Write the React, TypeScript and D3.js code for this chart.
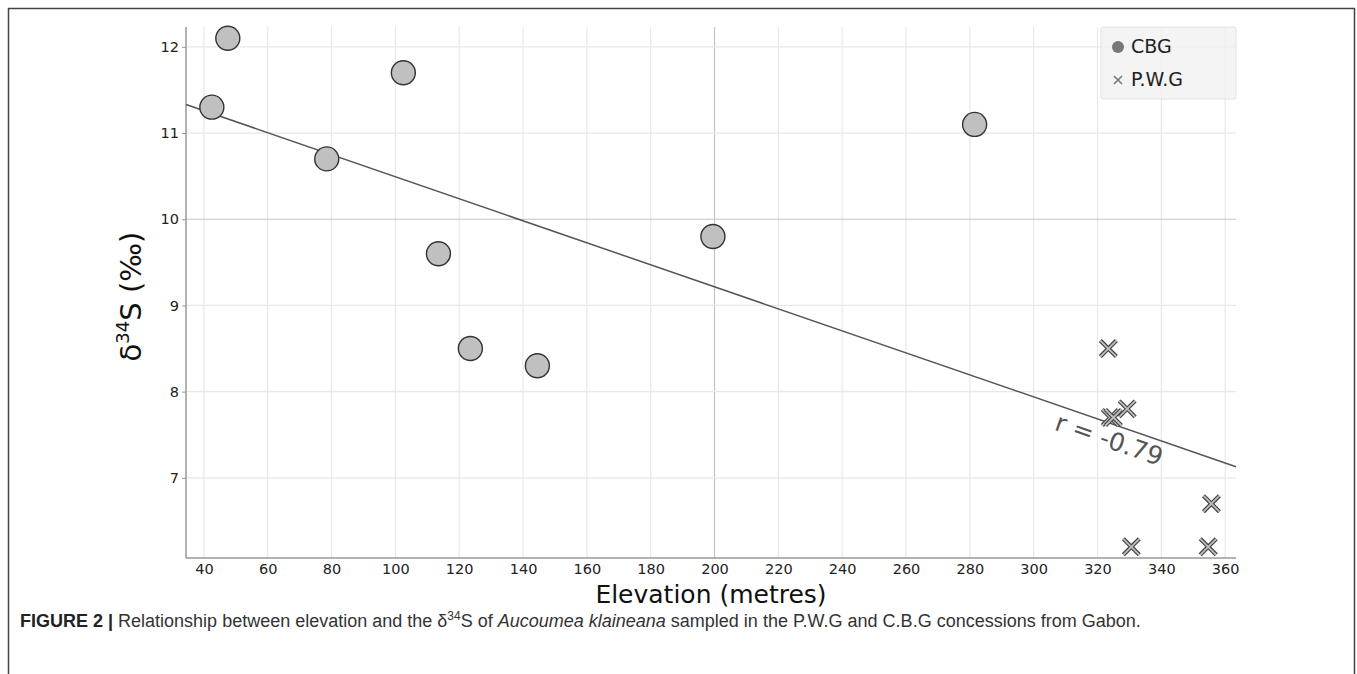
import React, { useEffect, useRef } from 'react';
import * as d3 from 'd3';

// CBG samples (elevation m, d34S permil)
const cbgElevation = [42.5, 47.5, 78.5, 102.5, 113.5, 123.5, 144.5, 199.5, 281.5];
const cbgD34S = [11.3, 12.1, 10.7, 11.7, 9.6, 8.5, 8.3, 9.8, 11.1];

// P.W.G samples
const pwgElevation = [323.4, 324, 325, 329.3, 330.6, 355.7, 354.7];
const pwgD34S = [8.5, 7.7, 7.7, 7.8, 6.2, 6.7, 6.2];

// fitted line
const fitSlope = -0.01277;
const fitIntercept = 11.77;
const corrLabel = 'r = -0.79';

const xTicks = [40, 60, 80, 100, 120, 140, 160, 180, 200, 220, 240, 260, 280, 300, 320, 340, 360];
const yTicks = [7, 8, 9, 10, 11, 12];

const W = 1357;
const H = 674;
const plot = { left: 186, right: 1236, top: 27, bottom: 558 };
const FONT = '"DejaVu Sans", Verdana, sans-serif';

export default function App() {
  const ref = useRef<SVGSVGElement>(null);

  useEffect(() => {
    const svg = d3.select(ref.current);
    svg.selectAll('*').remove();

    const x = d3.scaleLinear().domain([34.4, 363.4]).range([plot.left, plot.right]);
    const y = d3.scaleLinear().domain([6.07, 12.23]).range([plot.bottom, plot.top]);

    // outer frame
    svg.append('path')
      .attr('d', `M8.5,${H} V8.5 H1354.5 V${H}`)
      .attr('fill', 'none').attr('stroke', '#444').attr('stroke-width', 1.5);

    // grid
    const grid = svg.append('g');
    grid.selectAll('line.vx').data(xTicks).enter().append('line')
      .attr('x1', d => x(d)).attr('x2', d => x(d))
      .attr('y1', plot.top).attr('y2', plot.bottom)
      .attr('stroke', d => d === 200 ? '#c4c4c4' : '#e8e8e8').attr('stroke-width', 1.2);
    grid.selectAll('line.hy').data(yTicks).enter().append('line')
      .attr('y1', d => y(d)).attr('y2', d => y(d))
      .attr('x1', plot.left).attr('x2', plot.right)
      .attr('stroke', d => d === 10 ? '#c4c4c4' : '#e8e8e8').attr('stroke-width', 1.2);

    // axes
    const xAxis = svg.append('g')
      .attr('transform', `translate(0,${plot.bottom})`)
      .call(d3.axisBottom(x).tickValues(xTicks).tickFormat(d3.format('d')).tickSize(0).tickPadding(6));
    const yAxis = svg.append('g')
      .attr('transform', `translate(${plot.left},0)`)
      .call(d3.axisLeft(y).tickValues(yTicks).tickFormat(d3.format('d')).tickSize(4).tickPadding(3));
    [xAxis, yAxis].forEach(g => {
      g.select('.domain').attr('stroke', '#999').attr('stroke-width', 1.5);
      g.selectAll('.tick line').attr('stroke', '#999');
      g.selectAll('text')
        .style('font-family', FONT).style('font-size', '14.5px').attr('fill', '#222');
    });
    xAxis.select('.domain').attr('d', `M${plot.left},0H${plot.right}`);
    yAxis.select('.domain').attr('d', `M0,${plot.bottom}V${plot.top}`);

    // regression line
    const xd = x.domain();
    svg.append('line')
      .attr('x1', x(xd[0])).attr('y1', y(fitIntercept + fitSlope * xd[0]))
      .attr('x2', x(xd[1])).attr('y2', y(fitIntercept + fitSlope * xd[1]))
      .attr('stroke', '#555').attr('stroke-width', 1.5);

    // correlation label, rotated with the line
    const lx = 321;
    const angle = Math.atan2(
      y(fitIntercept + fitSlope * xd[1]) - y(fitIntercept + fitSlope * xd[0]),
      x(xd[1]) - x(xd[0])) * 180 / Math.PI;
    const px = x(lx) + 8;
    const py = y(fitIntercept + fitSlope * lx) + 21;
    svg.append('text')
      .attr('transform', `translate(${px},${py}) rotate(${angle})`)
      .attr('text-anchor', 'middle').attr('dominant-baseline', 'middle')
      .style('font-family', FONT).style('font-size', '25px').attr('fill', '#555')
      .text(corrLabel);

    // CBG circles
    svg.append('g').selectAll('circle')
      .data(d3.zip(cbgElevation, cbgD34S)).enter().append('circle')
      .attr('cx', d => x(d[0])).attr('cy', d => y(d[1])).attr('r', 12)
      .attr('fill', '#c0c0c0').attr('stroke', '#333').attr('stroke-width', 1.4);

    // P.W.G crosses
    const cross = svg.append('g').selectAll('g')
      .data(d3.zip(pwgElevation, pwgD34S)).enter().append('g')
      .attr('transform', d => `translate(${x(d[0])},${y(d[1])})`);
    const arm = 8;
    [['#444', 4.2], ['#bdbdbd', 1.8]].forEach(([c, w]) => {
      cross.append('path')
        .attr('d', `M${-arm},${-arm}L${arm},${arm}M${-arm},${arm}L${arm},${-arm}`)
        .attr('stroke', c as string).attr('stroke-width', w as number).attr('fill', 'none');
    });

    // legend
    const lg = svg.append('g');
    lg.append('rect')
      .attr('x', 1101).attr('y', 27).attr('width', 135).attr('height', 72).attr('rx', 2)
      .attr('fill', 'rgba(240,240,240,0.75)').attr('stroke', '#e2e2e2');
    lg.append('circle').attr('cx', 1118).attr('cy', 47).attr('r', 6).attr('fill', '#777');
    lg.append('path')
      .attr('d', 'M1114,76L1122,84M1114,84L1122,76')
      .attr('stroke', '#777').attr('stroke-width', 1.6);
    lg.selectAll('text.lg').data(['CBG', 'P.W.G']).enter().append('text')
      .attr('x', 1131).attr('y', (d, i) => 47 + i * 33)
      .attr('dominant-baseline', 'middle')
      .style('font-family', FONT).style('font-size', '19px').attr('fill', '#222')
      .text(d => d);

    // axis titles
    svg.append('text')
      .attr('x', (plot.left + plot.right) / 2).attr('y', 603)
      .attr('text-anchor', 'middle')
      .style('font-family', FONT).style('font-size', '25px').attr('fill', '#111')
      .text('Elevation (metres)');

    const yt = svg.append('text')
      .attr('transform', `translate(141,${(plot.top + plot.bottom) / 2 + 4}) rotate(-90)`)
      .attr('text-anchor', 'middle')
      .style('font-family', FONT).style('font-size', '29px').attr('fill', '#111');
    yt.append('tspan').text('δ');
    yt.append('tspan').attr('dy', -12).style('font-size', '18px').text('34');
    yt.append('tspan').attr('dy', 12).text('S (‰)');

    // caption
    const cap = svg.append('text')
      .attr('x', 20).attr('y', 627)
      .style('font-family', '"Liberation Sans", Arial, sans-serif').style('font-size', '18px')
      .attr('fill', '#333');
    cap.append('tspan').attr('font-weight', 'bold').attr('fill', '#222').text('FIGURE 2 | ');
    cap.append('tspan').text('Relationship between elevation and the δ');
    cap.append('tspan').attr('dy', -7).style('font-size', '12px').text('34');
    cap.append('tspan').attr('dy', 7).text('S of ');
    cap.append('tspan').attr('font-style', 'italic').text('Aucoumea klaineana');
    cap.append('tspan').text(' sampled in the P.W.G and C.B.G concessions from Gabon.');
  }, []);

  return (
    <svg ref={ref} width={W} height={H}
      style={{ position: 'absolute', left: 0, top: 0, background: '#fff' }} />
  );
}
